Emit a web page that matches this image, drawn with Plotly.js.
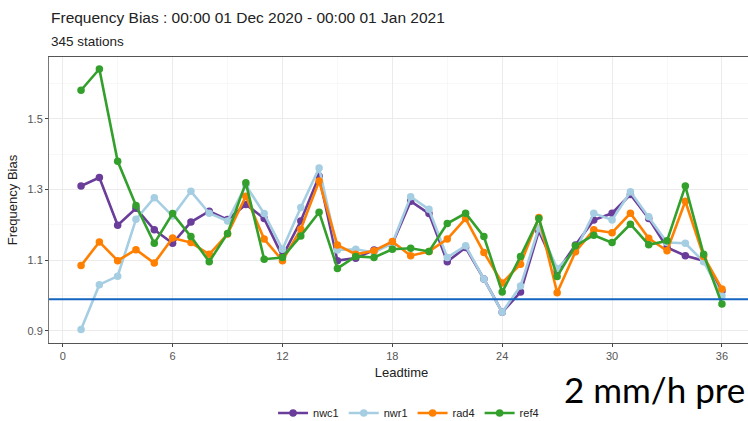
<!DOCTYPE html>
<html>
<head>
<meta charset="utf-8">
<script src="https://cdn.plot.ly/plotly-3.0.1.min.js"></script>
<style>
html,body{margin:0;padding:0;background:#fff;overflow:hidden;width:748px;height:421px;}
#chart{width:756px;height:421px;}
</style>
</head>
<body>
<div id="chart"></div>
<script>
const leadtime = [1,2,3,4,5,6,7,8,9,10,11,12,13,14,15,16,17,18,19,20,21,22,23,24,25,26,27,28,29,30,31,32,33,34,35,36];
const nwc1 = [1.310,1.334,1.199,1.247,1.186,1.148,1.208,1.239,1.215,1.258,1.218,1.111,1.211,1.338,1.099,1.106,1.129,1.146,1.267,1.232,1.096,1.136,1.047,0.953,1.010,1.183,1.068,1.143,1.214,1.233,1.286,1.218,1.136,1.113,1.099,1.013];
const nwr1 = [0.904,1.031,1.055,1.216,1.277,1.225,1.295,1.233,1.211,1.312,1.232,1.131,1.249,1.361,1.129,1.131,1.122,1.148,1.280,1.244,1.108,1.141,1.047,0.953,1.027,1.192,1.077,1.127,1.233,1.214,1.294,1.223,1.150,1.148,1.096,1.000];
const rad4 = [1.085,1.152,1.099,1.130,1.092,1.163,1.150,1.117,1.174,1.281,1.160,1.099,1.188,1.324,1.143,1.117,1.127,1.153,1.113,1.125,1.160,1.218,1.122,1.036,1.089,1.221,1.008,1.124,1.186,1.178,1.233,1.162,1.127,1.267,1.111,1.019];
const ref4 = [1.581,1.641,1.380,1.255,1.148,1.232,1.167,1.096,1.176,1.319,1.103,1.108,1.169,1.236,1.077,1.111,1.108,1.131,1.134,1.125,1.204,1.233,1.167,1.010,1.111,1.218,1.054,1.141,1.171,1.150,1.202,1.144,1.155,1.310,1.117,0.976];
const seriesNames = ["nwc1","nwr1","rad4","ref4"];
const seriesColors = ["#6a3d9a","#a6cee3","#ff7f00","#33a02c"];
const refLine = 0.99;
const xTicks = [0,6,12,18,24,30,36];
const yTicks = [0.9,1.1,1.3,1.5];
const titleText = "Frequency Bias : 00:00 01 Dec 2020 - 00:00 01 Jan 2021";
const subtitleText = "345 stations";
const overlayText = "2 mm/h pre";

const values = [nwc1,nwr1,rad4,ref4];
const traces = values.map((v,i)=>({
  x: leadtime, y: v, name: seriesNames[i], type: 'scatter', mode: 'lines+markers',
  line: {color: seriesColors[i], width: 2.6},
  marker: {color: seriesColors[i], size: 7.5}
}));

const narrow = "Liberation Sans Narrow, Arial Narrow, Liberation Sans, sans-serif";
const layout = {
  width: 756, height: 421,
  margin: {l: 49, r: 2, t: 57, b: 78},
  paper_bgcolor: '#fff', plot_bgcolor: '#fff',
  showlegend: true,
  legend: {orientation: 'h', x: 0.51, xanchor: 'center', xref: 'paper',
    yref: 'container', y: 0.019, yanchor: 'middle',
    font: {family: narrow, size: 11, color: '#222'}, itemwidth: 30, tracegroupgap: 0},
  xaxis: {
    range: [-0.75, 37.75], tickvals: xTicks, ticktext: xTicks.map(String),
    ticks: 'outside', ticklen: 3, tickcolor: '#444', tickfont: {family: narrow, size: 11, color: '#555'},
    showgrid: true, gridcolor: '#ebebeb', gridwidth: 1,
    minor: {tickvals: [3,9,15,21,27,33], showgrid: true, gridcolor: '#f4f4f4', gridwidth: 0.6},
    showline: true, linecolor: '#555', linewidth: 1, mirror: true, zeroline: false, automargin: false,
    title: {text: 'Leadtime', font: {family: narrow, size: 13, color: '#222'}, standoff: 6}
  },
  yaxis: {
    range: [0.866, 1.675], tickvals: yTicks, ticktext: yTicks.map(v=>v.toFixed(1)),
    ticks: 'outside', ticklen: 3, tickcolor: '#444', tickfont: {family: narrow, size: 11, color: '#555'},
    showgrid: true, gridcolor: '#ebebeb', gridwidth: 1,
    minor: {tickvals: [1.0,1.2,1.4,1.6], showgrid: true, gridcolor: '#f4f4f4', gridwidth: 0.6},
    showline: true, linecolor: '#777', linewidth: 1, mirror: true, zeroline: false, automargin: false,
    title: {text: 'Frequency Bias', font: {family: narrow, size: 13, color: '#222'}, standoff: 6}
  },
  shapes: [{type: 'line', xref: 'paper', x0: 0, x1: 1, yref: 'y', y0: refLine, y1: refLine,
    line: {color: '#1565c0', width: 2}}],
  annotations: [
    {text: titleText, xref: 'paper', yref: 'paper', x: 0, y: 1, xanchor: 'left', yanchor: 'middle',
     xshift: 0, yshift: 40, showarrow: false, font: {family: 'Liberation Sans, Arial, sans-serif', size: 15.5, color: '#222'}},
    {text: subtitleText, xref: 'paper', yref: 'paper', x: 0, y: 1, xanchor: 'left', yanchor: 'middle',
     xshift: 0, yshift: 16, showarrow: false, font: {family: 'Liberation Sans, Arial, sans-serif', size: 13.5, color: '#222'}},
    {text: overlayText, xref: 'paper', yref: 'paper', x: 0.727, y: -0.16, xanchor: 'left', yanchor: 'middle',
     showarrow: false, font: {family: 'Lato, Open Sans, sans-serif', size: 35, color: '#000'}}
  ]
};
Plotly.newPlot('chart', traces, layout, {displayModeBar: false, staticPlot: true});
</script>
</body>
</html>
